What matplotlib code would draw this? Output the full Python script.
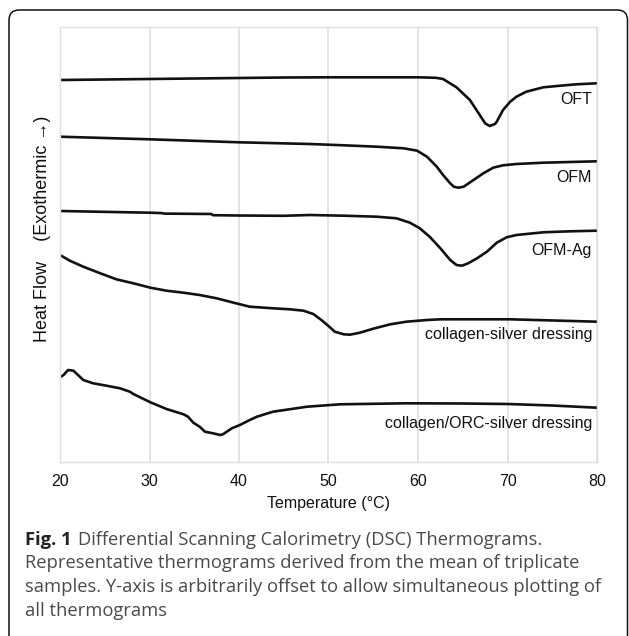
import numpy as np
import matplotlib
matplotlib.use("Agg")
from matplotlib import pyplot as plt
from matplotlib.patches import FancyBboxPatch

# temperature (deg C) and heat flow (arbitrary, offset)
oft_t = [20, 25, 30, 35, 40, 45, 50, 55, 60, 62, 62.8, 64.3, 65.8, 66.9, 67.5, 68.0, 68.6,
         68.8, 69.5, 70.3, 71.0, 72.1, 74.0, 75.9, 77.7, 80]
oft_y = [382, 382.5, 383, 383.5, 384, 384.5, 384.7, 384.7, 384.7, 384.2, 383, 374.7, 362, 347,
         338.7, 336, 338, 340.3, 352, 360.3, 365.3, 370.3, 374.7, 376.3, 377.7, 378.7]

ofm_t = [20, 30, 40, 47.9, 51.7, 55.4, 58.4, 59.9, 61.0, 62.1, 62.8, 63.6, 64.0, 64.5, 65.1,
         66.2, 67.3, 68.4, 69.5, 71.0, 74.0, 80]
ofm_y = [325.3, 322.7, 319.7, 318, 316.7, 315.3, 313.7, 311.3, 305.3, 295.3, 287, 278.7, 275.3,
         274.3, 275.3, 282, 288.7, 294.3, 296.7, 298, 299.3, 300.7]

ofmag_t = [20, 30, 31.4, 31.6, 36.9, 37.1, 40, 45, 47.9, 51.7, 55.4, 57.6, 59.1, 60.2, 61.3,
           62.5, 63.6, 64.3, 64.9, 65.6, 66.6, 67.7, 68.8, 69.9, 71.0, 74.0, 77.0, 80]
ofmag_y = [251, 249.3, 248.9, 248.4, 248.0, 246.8, 246.5, 246.2, 247, 246.3, 245.3, 243.7,
           239.3, 233.7, 225.3, 213.7, 202, 197, 196.3, 198.7, 203.7, 210.3, 219.3, 224.7,
           227, 229.7, 230.7, 231.3]

cs_t = [20, 21.1, 22.6, 24.5, 26.3, 28.2, 30.1, 31.9, 33.8, 35.6, 37.5, 39.4, 41.2, 43.8,
        45.7, 47.2, 48.3, 49.2, 50.0, 50.7, 51.7, 52.4, 53.5, 55.0, 56.9, 58.7, 61.0, 62.5,
        70.3, 80]
cs_y = [207, 201.3, 195.3, 188.7, 182.7, 178.7, 174.3, 171.3, 169.3, 167, 163.7, 159.3, 155.3,
        153.7, 152.7, 151.3, 148, 142, 136, 130.3, 127.7, 127.3, 129.3, 133.3, 137.7, 140.3,
        142, 142.7, 142.7, 140.3]

orc_t = [20, 20.4, 20.9, 21.5, 22.6, 23.7, 25.2, 26.7, 27.8, 28.2, 30.1, 31.9, 33.8, 34.3,
         34.9, 35.6, 36.2, 37.1, 37.9, 38.2, 39.2, 40.1, 41.2, 42.0, 43.8, 47.6, 51.3, 58.7,
         65, 70, 75, 80]
orc_y = [84.7, 87, 92, 91.3, 82, 78.7, 76.3, 73.7, 70.3, 68, 59.7, 53, 47.7, 45.3, 39.3, 35.3,
         30.3, 28.7, 27, 27.7, 33.7, 37, 42, 45.3, 50.3, 55.3, 57.7, 58.7, 58.5, 58, 56.5, 54.3]

names = ["OFT", "OFM", "OFM-Ag", "collagen-silver dressing", "collagen/ORC-silver dressing"]
label_y = [362, 285, 211.3, 127, 38.7]

fig = plt.figure(figsize=(6.29, 6.36), dpi=100)
ax = fig.add_axes([60 / 629, 174 / 636, 537 / 629, 435 / 636])

for t, y in [(oft_t, oft_y), (ofm_t, ofm_y), (ofmag_t, ofmag_y), (cs_t, cs_y), (orc_t, orc_y)]:
    ax.plot(t, y, color="#111111", lw=1.9, solid_capstyle="butt")

for name, ly in zip(names, label_y):
    ax.text(79.45, ly, name, ha="right", va="center", fontsize=11.5,
            family="Liberation Sans", color="#111111")

ax.set_xlim(20, 80)
ax.set_ylim(0, 435)
ax.set_xticks([20, 30, 40, 50, 60, 70, 80])
ax.set_yticks([])
ax.grid(axis="x", color="#dcdcdc", lw=1.1)
ax.set_axisbelow(True)
for s in ax.spines.values():
    s.set_color("#e0e0e0")
    s.set_linewidth(1.0)
ax.tick_params(axis="x", length=0, pad=9, labelsize=11.5, labelcolor="#111111")
for lab in ax.get_xticklabels():
    lab.set_family("Liberation Sans")
ax.set_xlabel("Temperature (°C)", fontsize=11.5, family="Liberation Sans",
              color="#111111", labelpad=5)

fig.text(43 / 629, 1 - 229 / 636, "Heat Flow    (Exothermic \u2192)", rotation=90,
         ha="center", va="center", fontsize=13, color="#111111",
         family=["Liberation Sans", "DejaVu Sans"])

# rounded frame around the figure
frame = FancyBboxPatch((9 / 629, -0.05), 618.5 / 629, 1 - 10 / 636 + 0.05,
                       boxstyle="round,pad=0,rounding_size=0.016",
                       transform=fig.transFigure, fill=False, ec="#111111", lw=1.1)
fig.patches.append(frame)

# caption
cap_lines = ["Differential Scanning Calorimetry (DSC) Thermograms.",
             "Representative thermograms derived from the mean of triplicate",
             "samples. Y-axis is arbitrarily offset to allow simultaneous plotting of",
             "all thermograms"]
cap_base = [545, 568.5, 592, 615.5]
renderer = fig.canvas.get_renderer()
bold = fig.text(25 / 629, 1 - cap_base[0] / 636, "Fig. 1", fontsize=13.2, weight="bold",
                family="Open Sans", color="#222222", va="baseline")
bb = bold.get_window_extent(renderer)
fig.text((bb.x1 + 6) / 629, 1 - cap_base[0] / 636, cap_lines[0], fontsize=13.2,
         family="Open Sans", color="#4a4a4a", va="baseline")
for line, cy in zip(cap_lines[1:], cap_base[1:]):
    fig.text(25 / 629, 1 - cy / 636, line, fontsize=13.2, family="Open Sans",
             color="#4a4a4a", va="baseline")

fig.savefig("out.png", dpi=100)
